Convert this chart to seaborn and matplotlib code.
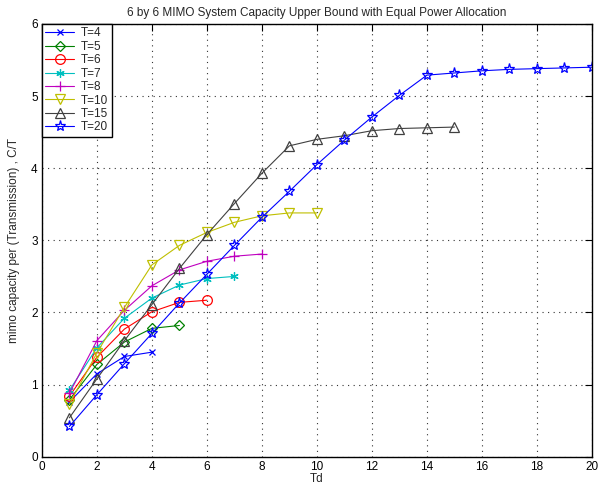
import numpy as np
import pandas as pd
import matplotlib
matplotlib.use("Agg")
import matplotlib.pyplot as plt
import seaborn as sns

# Capacity values, one list per block length T
td_4 = [1, 2, 3, 4]
cap_4 = [0.76, 1.15, 1.39, 1.45]
td_5 = [1, 2, 3, 4, 5]
cap_5 = [0.79, 1.28, 1.59, 1.78, 1.82]
td_6 = [1, 2, 3, 4, 5, 6]
cap_6 = [0.84, 1.38, 1.77, 2.01, 2.14, 2.17]
td_7 = [1, 2, 3, 4, 5, 6, 7]
cap_7 = [0.92, 1.51, 1.92, 2.20, 2.38, 2.47, 2.50]
td_8 = [1, 2, 3, 4, 5, 6, 7, 8]
cap_8 = [0.88, 1.61, 2.03, 2.37, 2.59, 2.71, 2.78, 2.81]
td_10 = [1, 2, 3, 4, 5, 6, 7, 8, 9, 10]
cap_10 = [0.73, 1.44, 2.07, 2.66, 2.93, 3.11, 3.25, 3.34, 3.38, 3.38]
td_15 = list(range(1, 16))
cap_15 = [0.54, 1.08, 1.61, 2.11, 2.61, 3.08, 3.51, 3.93, 4.31, 4.40,
          4.45, 4.52, 4.55, 4.56, 4.57]
td_20 = list(range(1, 21))
cap_20 = [0.42, 0.86, 1.29, 1.71, 2.13, 2.53, 2.93, 3.32, 3.68, 4.05,
          4.39, 4.71, 5.01, 5.29, 5.32, 5.35, 5.37, 5.38, 5.39, 5.40]

labels = ["T=4", "T=5", "T=6", "T=7", "T=8", "T=10", "T=15", "T=20"]
xs = [td_4, td_5, td_6, td_7, td_8, td_10, td_15, td_20]
ys = [cap_4, cap_5, cap_6, cap_7, cap_8, cap_10, cap_15, cap_20]

# matlab-ish line specs: x, diamond, circle, asterisk, plus, v, ^, pentagram
colors = ["#0000ff", "#008000", "#ff0000", "#00bfbf", "#bf00bf", "#bfbf00", "#404040", "#0000ff"]
markers = ["x", "D", "o", (6, 2, 0), "+", "v", "^", "*"]
msizes = [5, 5, 7, 6, 7, 7, 7, 8]

sns.set_style("white")
plt.rcParams["font.family"] = ["Liberation Sans", "DejaVu Sans"]
plt.rcParams["font.size"] = 8.5

fig = plt.figure(figsize=(6.16, 4.88), dpi=100)
ax = fig.add_axes([0.068, 0.064, 0.893, 0.887])

for i in range(len(labels)):
    df = pd.DataFrame({"Td": xs[i], "C": ys[i]})
    sns.lineplot(data=df, x="Td", y="C", ax=ax, color=colors[i], marker=markers[i],
                 markersize=msizes[i], markerfacecolor="none",
                 markeredgecolor=colors[i], markeredgewidth=0.9,
                 linewidth=0.8, label=labels[i])

ax.set_xlim(0, 20)
ax.set_ylim(0, 6)
ax.set_xticks(np.arange(0, 21, 2))
ax.set_yticks(np.arange(0, 7, 1))
ax.grid(True, linestyle=(0, (1, 4)), color="#333333", linewidth=0.8)
ax.tick_params(direction="in", top=True, right=True, length=5, width=0.8,
               labelsize=8.5, pad=3, colors="black")
for s in ax.spines.values():
    s.set_color("black")
    s.set_linewidth(1.0)

ax.set_title("6 by 6 MIMO System Capacity Upper Bound with Equal Power Allocation",
             fontsize=8.5, pad=6)
ax.set_xlabel("Td", fontsize=8.5, labelpad=0)
ax.set_ylabel("mimo capacity per (Transmission) , C/T", fontsize=8.5, labelpad=8)

leg = ax.legend(loc="upper left", fontsize=8.5, frameon=True, fancybox=False,
                borderaxespad=0, handlelength=2.4, handletextpad=0.6,
                labelspacing=0.12, borderpad=0.3)
leg.get_frame().set_edgecolor("black")
leg.get_frame().set_linewidth(1.0)
leg.get_frame().set_alpha(1)

fig.savefig("out.png", dpi=100)
